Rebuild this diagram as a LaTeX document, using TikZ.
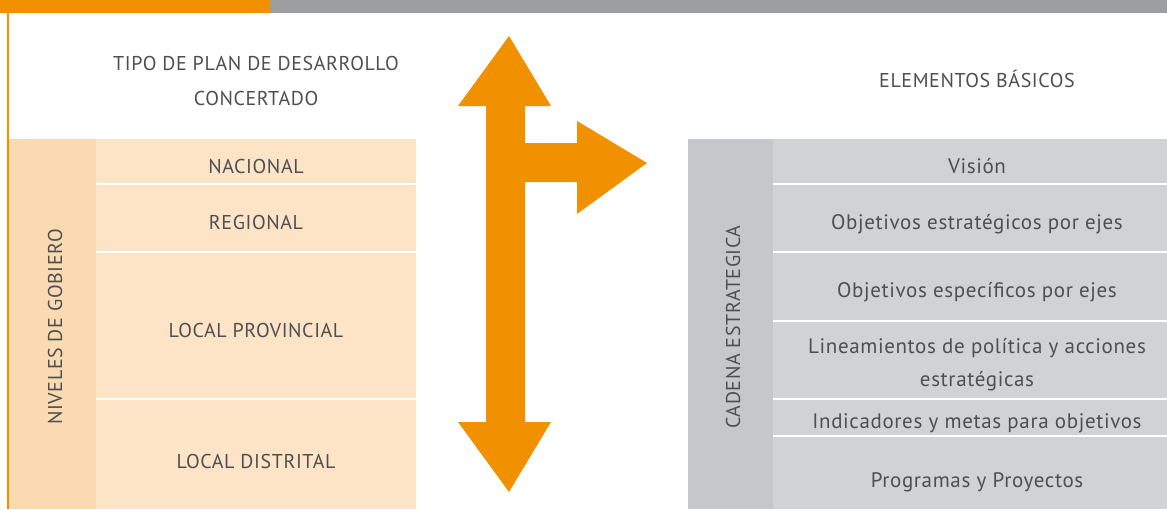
\documentclass[tikz,border=0pt]{standalone}
\usepackage{fontspec}
\setmainfont{PT Sans}[LetterSpace=3]
\usetikzlibrary{positioning}
\definecolor{planorange}{RGB}{242,145,0}
\definecolor{bargrey}{RGB}{157,158,160}
\definecolor{peachrow}{RGB}{253,228,198}
\definecolor{peachcol}{RGB}{250,218,176}
\definecolor{greyrow}{RGB}{209,210,212}
\definecolor{greycol}{RGB}{198,199,201}
\definecolor{inkgrey}{RGB}{78,79,82}

\tikzset{
  capstext/.style={font=\fontsize{20}{35}\selectfont, text=inkgrey, anchor=base, inner sep=0pt},
  rowtext/.style={font=\fontsize{21}{33}\selectfont, text=inkgrey, anchor=base, inner sep=0pt, align=center},
  sidetext/.style={font=\fontsize{20}{24}\selectfont, text=inkgrey, rotate=90, inner sep=0pt},
  divider/.style={white, line width=1.5pt}
}

\begin{document}
\begin{tikzpicture}[x=1pt, y=-1pt]
  \useasboundingbox (0,0) rectangle (1167,509);
  \fill[white] (0,0) rectangle (1167,509);

  % Top band
  \fill[planorange] (0,0) rectangle (270,13);
  \fill[bargrey] (270,0) rectangle (1167,13);
  \draw[planorange, line width=2pt] (8,13) -- (8,509);

  % Headings
  \node[capstext, align=center, anchor=center] (tipo) at (256,81)
    {TIPO DE PLAN DE DESARROLLO\\CONCERTADO};
  \node[capstext] (elem) at (977,87) {ELEMENTOS BÁSICOS};

  % Niveles de gobierno - left block
  \fill[peachcol] (9,139) rectangle (96,509);
  \fill[peachrow] (96,139) rectangle (416,509);
  \foreach \y in {184, 252, 399} {
    \draw[divider] (96,\y) -- (416,\y);
  }
  \node[sidetext] (niveles) at (55,327) {NIVELES DE GOBIERO};
  \foreach \name/\y/\txt in {nac/173/NACIONAL, reg/229/REGIONAL,
      prov/337/LOCAL PROVINCIAL, dist/468/LOCAL DISTRITAL} {
    \node[capstext] (\name) at (256,\y) {\txt};
  }

  % Branching arrow
  \fill[planorange] (509,36) -- (551,106) -- (525,106) -- (525,143) -- (577,143)
    -- (577,121) -- (647,163) -- (577,214) -- (577,182) -- (525,182) -- (525,422)
    -- (551,422) -- (509,492) -- (458,422) -- (486,422) -- (486,106) -- (458,106) -- cycle;

  % Cadena estrategica - right block
  \fill[greycol] (688,139) rectangle (773,509);
  \fill[greyrow] (773,139) rectangle (1167,509);
  \foreach \y in {184, 252, 321, 399, 436} {
    \draw[divider] (773,\y) -- (1167,\y);
  }
  \node[sidetext] (cadena) at (733,327) {CADENA ESTRATEGICA};
  \foreach \name/\y/\txt in {vis/173/Visión, oee/229/Objetivos estratégicos por ejes,
      oes/297/Objetivos específicos por ejes, ind/428/Indicadores y metas para objetivos,
      prog/487/Programas y Proyectos} {
    \node[rowtext] (\name) at (977,\y) {\txt};
  }
  \node[rowtext, anchor=center] (lin) at (977,365)
    {Lineamientos de política y acciones\\estratégicas};
\end{tikzpicture}
\end{document}
